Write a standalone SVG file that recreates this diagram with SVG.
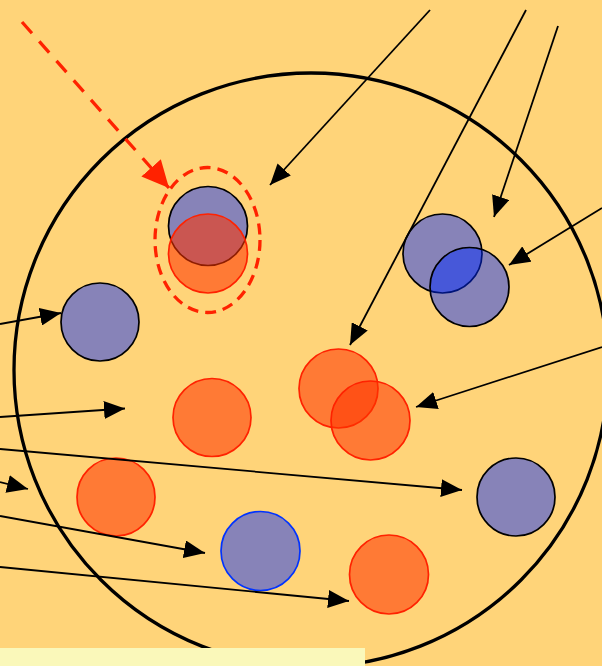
<svg xmlns="http://www.w3.org/2000/svg" width="602" height="666" viewBox="0 0 602 666">
<style>
.bg{fill:#FFD479}
.big{fill:none;stroke:#000;stroke-width:3.3}
.blue{fill:#0028FF;fill-opacity:0.47;stroke:#000;stroke-width:1.7}
.blue2{fill:#0028FF;fill-opacity:0.47;stroke:#0033FF;stroke-width:1.7}
.org{fill:#FF3300;fill-opacity:0.56;stroke:#FF2200;stroke-width:1.7}
.arr{stroke:#000;stroke-width:1.8;fill:none;marker-end:url(#ah)}
</style>
<defs>
<marker id="ah" markerUnits="userSpaceOnUse" markerWidth="22" markerHeight="18" refX="21" refY="9" orient="auto" viewBox="0 0 22 18">
<path d="M0,0 L21,9 L0,18 z" fill="#000"/>
</marker>
<marker id="ahr" markerUnits="userSpaceOnUse" markerWidth="28" markerHeight="26" refX="27" refY="13" orient="auto" viewBox="0 0 28 26">
<path d="M0,0 L27,13 L0,26 z" fill="#FF2200"/>
</marker>
</defs>
<rect class="bg" x="0" y="0" width="602" height="666"/>
<g id="cell"><circle class="big" cx="311" cy="370" r="297"/></g>
<g id="n1"><circle class="blue" cx="208" cy="226" r="39.5"/></g>
<g id="n2"><circle class="org" cx="208" cy="253.5" r="39.5"/></g>
<g id="n3"><ellipse cx="207.5" cy="240" rx="52.5" ry="72.5" fill="none" stroke="#FF2200" stroke-width="3.3" stroke-dasharray="11 7"/></g>
<g id="n4"><circle class="blue" cx="100" cy="322" r="39"/></g>
<g id="n5"><circle class="blue" cx="442.5" cy="253.5" r="39.5"/></g>
<g id="n6"><circle class="blue" cx="469.5" cy="287" r="39.5"/></g>
<g id="n7"><circle class="org" cx="212" cy="417.5" r="39"/></g>
<g id="n8"><circle class="org" cx="338.5" cy="388.5" r="39.5"/></g>
<g id="n9"><circle class="org" cx="370.5" cy="420.5" r="39.5"/></g>
<g id="n10"><circle class="org" cx="116" cy="497" r="39"/></g>
<g id="n11"><circle class="blue" cx="516" cy="497" r="39"/></g>
<g id="n12"><circle class="blue2" cx="260.5" cy="551" r="39.5"/></g>
<g id="n13"><circle class="org" cx="389" cy="574.5" r="39.5"/></g>
<g id="connectors">
<line class="arr" x1="430" y1="10" x2="270" y2="185"/>
<line class="arr" x1="526" y1="10" x2="350" y2="345"/>
<line class="arr" x1="558" y1="26" x2="494" y2="217"/>
<line class="arr" x1="602" y1="208" x2="509" y2="265"/>
<line class="arr" x1="602" y1="347" x2="416" y2="407"/>
<line class="arr" x1="0" y1="324" x2="61" y2="313"/>
<line class="arr" x1="0" y1="417" x2="125" y2="408.5"/>
<line class="arr" x1="0" y1="449" x2="462" y2="490"/>
<line class="arr" x1="0" y1="482" x2="28" y2="489"/>
<line class="arr" x1="0" y1="516" x2="205" y2="553"/>
<line class="arr" x1="0" y1="567" x2="349" y2="601"/>
<line stroke="#FF2200" stroke-width="3.3" fill="none" stroke-dasharray="15 11" marker-end="url(#ahr)" x1="22" y1="22" x2="169" y2="188"/>
</g>
<rect x="0" y="648" width="365" height="18" fill="#FAF8BA"/>
</svg>
